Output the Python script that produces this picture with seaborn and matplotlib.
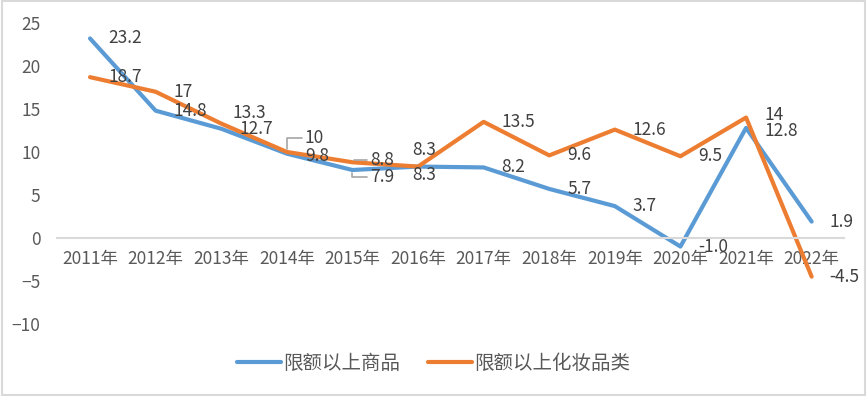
import pandas as pd
import numpy as np
import matplotlib
matplotlib.use("Agg")
import matplotlib.pyplot as plt
import seaborn as sns

# chart data
years = ["2011年", "2012年", "2013年", "2014年", "2015年", "2016年",
         "2017年", "2018年", "2019年", "2020年", "2021年", "2022年"]
goods = [23.2, 14.8, 12.7, 9.8, 7.9, 8.3, 8.2, 5.7, 3.7, -1.0, 12.8, 1.9]
cosmetics = [18.7, 17, 13.3, 10, 8.8, 8.3, 13.5, 9.6, 12.6, 9.5, 14, -4.5]
goods_labels = ["23.2", "14.8", "12.7", "9.8", "7.9", "8.3", "8.2", "5.7", "3.7", "-1.0", "12.8", "1.9"]
cosm_labels = ["18.7", "17", "13.3", "10", "8.8", "8.3", "13.5", "9.6", "12.6", "9.5", "14", "-4.5"]
series_names = ["限额以上商品", "限额以上化妆品类"]

df = pd.concat([
    pd.DataFrame({"year": years, "value": goods, "series": series_names[0]}),
    pd.DataFrame({"year": years, "value": cosmetics, "series": series_names[1]}),
])

sns.set_style("white")
plt.rcParams['font.family'] = ['Noto Sans CJK SC', 'DejaVu Sans']

blue, orange = "#5B9BD5", "#ED7D31"
text_col = "#595959"
label_col = "#404040"

fig = plt.figure(figsize=(8.67, 3.96), dpi=100)
ax = fig.add_axes([0.066, 0.182, 0.908, 0.760])

sns.lineplot(data=df, x="year", y="value", hue="series",
             palette=[blue, orange], linewidth=3, ax=ax, sort=False,
             legend=True)

ax.set_xlim(-0.5, len(years) - 0.5)
ax.set_ylim(-10, 25)
ax.set_yticks(np.arange(-10, 26, 5))
ax.set_xlabel("")
ax.set_ylabel("")

for s in ["top", "right", "left"]:
    ax.spines[s].set_visible(False)
ax.spines["bottom"].set_position(("data", 0))
ax.spines["bottom"].set_color("#d9d9d9")
ax.spines["bottom"].set_linewidth(1.5)
ax.tick_params(axis="x", length=0, pad=9, labelsize=12.5, labelcolor=text_col)
ax.tick_params(axis="y", length=0, pad=12, labelsize=12.5, labelcolor=text_col)

# data labels, offsets in points (dx, dy)
px = 72 / 100
default = (18 * px, 0)
goods_off = {3: (18 * px, -2 * px, False), 4: (18 * px, -7 * px, True),
             5: (-6 * px, -8 * px, False), 10: (18 * px, -3 * px, False)}
cosm_off = {2: (11 * px, 11 * px, False), 3: (18 * px, 14 * px, True),
            4: (18 * px, 2 * px, True), 5: (-6 * px, 17 * px, False),
            10: (18 * px, 3 * px, False)}

def put_labels(vals, labels, offsets):
    for i, (v, t) in enumerate(zip(vals, labels)):
        dx, dy, lead = offsets.get(i, (default[0], default[1], False))
        kw = {}
        if lead:
            kw["arrowprops"] = dict(arrowstyle="-", color="#a6a6a6", lw=1.2,
                                    shrinkA=0, shrinkB=2,
                                    connectionstyle="angle,angleA=0,angleB=90,rad=0")
        ax.annotate(t, (i, v), xytext=(dx, dy), textcoords="offset points",
                    ha="left", va="center", fontsize=12.5, color=label_col,
                    annotation_clip=False, **kw)

put_labels(goods, goods_labels, goods_off)
put_labels(cosmetics, cosm_labels, cosm_off)

handles, lbls = ax.get_legend_handles_labels()
ax.legend(handles, lbls, loc="center", bbox_to_anchor=(0.5, 0.083),
          bbox_transform=fig.transFigure, ncol=2, frameon=False,
          fontsize=14, labelcolor=text_col, handlelength=2.3,
          handletextpad=0.1, columnspacing=1.4)

fig.patches.append(plt.Rectangle((0.002, 0.003), 0.996, 0.994, transform=fig.transFigure,
                                 fill=False, edgecolor="#d9d9d9", linewidth=1.5))

fig.savefig("out.png", dpi=100)
